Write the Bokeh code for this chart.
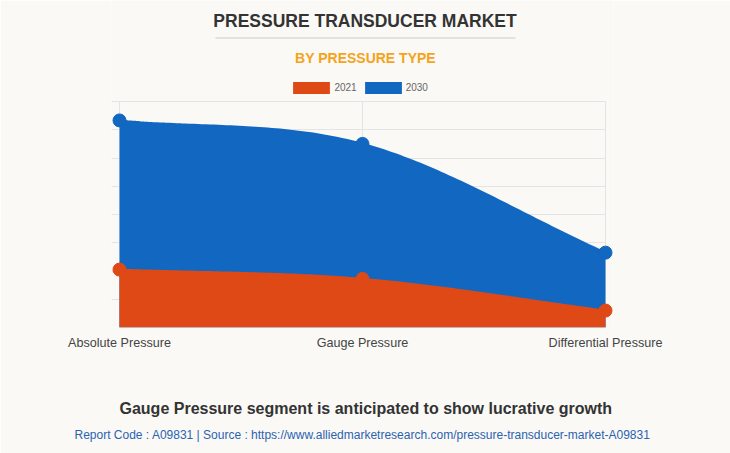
import numpy as np
from bokeh.plotting import figure
from bokeh.models import (Legend, LegendItem, FixedTicker, Range1d, Title, Grid, Label,
                          BoxAnnotation)
from bokeh.embed import file_html
from bokeh.resources import INLINE

# ---- data ----
categories = ["Absolute Pressure", "Gauge Pressure", "Differential Pressure"]
series_names = ["2021", "2030"]
values_2021 = [2.05, 1.72, 0.60]
values_2030 = [7.33, 6.50, 2.65]
y_ticks = [0, 1, 2, 3, 4, 5, 6, 7, 8]

title_text = "PRESSURE TRANSDUCER MARKET"
subtitle_text = "BY PRESSURE TYPE"
footer_text = "Gauge Pressure segment is anticipated to show lucrative growth"
source_text = "Report Code : A09831  |  Source : https://www.alliedmarketresearch.com/pressure-transducer-market-A09831"

# ---- layout ----
W, H = 730, 453
PAD = 8                      # room for the end markers
PLOT_L, PLOT_R, PLOT_T, PLOT_B = 119, 605, 101, 327
LEFT, RIGHT = PLOT_L - PAD, W - PLOT_R - PAD
FONT = "Liberation Sans"
BG = "#faf9f6"
ORANGE = "#df4916"
BLUE = "#1267c1"
GRID = "#e4e4e4"

x_idx = list(range(len(categories)))
X0, X1 = 0, len(categories) - 1
Y0, Y1 = y_ticks[0], y_ticks[-1]
sx = (PLOT_R - PLOT_L) / (X1 - X0)
sy = (PLOT_B - PLOT_T) / (Y1 - Y0)
padx = PAD / sx
y_top = Y1 + PLOT_T / sy          # frame reaches the top edge (holds the header)


def dx(px):
    return (px - PLOT_L) / sx + X0


def dy(py):
    return (PLOT_B - py) / sy + Y0


def monotone(xs, ys, n=60):
    """Chart.js 'monotone' cubic interpolation through the data points."""
    xs = np.asarray(xs, float)
    ys = np.asarray(ys, float)
    m = len(xs)
    dk = np.diff(ys) / np.diff(xs)
    mk = np.zeros(m)
    mk[0], mk[-1] = dk[0], dk[-1]
    for i in range(1, m - 1):
        mk[i] = 0 if dk[i - 1] * dk[i] <= 0 else (dk[i - 1] + dk[i]) / 2
    for i in range(m - 1):
        if abs(dk[i]) < 1e-12:
            mk[i] = mk[i + 1] = 0
            continue
        a, b = mk[i] / dk[i], mk[i + 1] / dk[i]
        s = a * a + b * b
        if s > 9:
            tau = 3 / np.sqrt(s)
            mk[i], mk[i + 1] = tau * a * dk[i], tau * b * dk[i]
    t = np.linspace(0, 1, n)[:, None]
    outx, outy = [], []
    for i in range(m - 1):
        h = (xs[i + 1] - xs[i]) / 3
        p0 = np.array([xs[i], ys[i]])
        p1 = np.array([xs[i] + h, ys[i] + mk[i] * h])
        p2 = np.array([xs[i + 1] - h, ys[i + 1] - mk[i + 1] * h])
        p3 = np.array([xs[i + 1], ys[i + 1]])
        seg = (1 - t) ** 3 * p0 + 3 * (1 - t) ** 2 * t * p1 + 3 * (1 - t) * t ** 2 * p2 + t ** 3 * p3
        if i > 0:
            seg = seg[1:]
        outx.extend(seg[:, 0])
        outy.extend(seg[:, 1])
    return np.array(outx), np.array(outy)


p = figure(width=W, height=H, output_backend="svg", toolbar_location=None,
           x_range=Range1d(X0 - padx, X1 + padx), y_range=Range1d(Y0, y_top),
           min_border_left=LEFT, min_border_right=RIGHT,
           min_border_top=0, min_border_bottom=H - PLOT_B)
p.background_fill_color = BG
p.border_fill_color = BG
p.outline_line_color = None

# grid
p.xaxis.ticker = FixedTicker(ticks=x_idx)
p.yaxis.ticker = FixedTicker(ticks=y_ticks)
p.xgrid.grid_line_color = GRID
p.ygrid.grid_line_color = GRID
if "cross_bounds" in Grid.properties():
    p.xgrid.cross_bounds = (Y0, Y1)
    p.ygrid.cross_bounds = (X0 - padx, X1)
p.yaxis.visible = False

# x axis
p.xaxis.major_label_overrides = {i: c for i, c in zip(x_idx, categories)}
p.xaxis.major_label_text_font = FONT
p.xaxis.major_label_text_font_size = "12.6px"
p.xaxis.major_label_text_color = "#444444"
p.xaxis.major_label_standoff = 8
p.xaxis.major_tick_out = 0
p.xaxis.major_tick_in = 0
p.xaxis.minor_tick_line_color = None
p.xaxis.axis_line_color = None

# series (2030 drawn first, 2021 on top)
bx, by = monotone(x_idx, values_2030)
r_blue = p.varea(x=bx, y1=0, y2=by, fill_color=BLUE)
p.line(bx, by, line_color=BLUE, line_width=2)
p.scatter(x_idx, values_2030, size=13, fill_color=BLUE, line_color=BLUE)

ox, oy = monotone(x_idx, values_2021)
r_orange = p.varea(x=ox, y1=0, y2=oy, fill_color=ORANGE)
p.line(ox, oy, line_color=ORANGE, line_width=2)
p.scatter(x_idx, values_2021, size=13, fill_color=ORANGE, line_color=ORANGE)

# legend, inside the upper strip of the frame (area swatches are inset by 10%)
GW, GH = 37 / 0.8, 12 / 0.8
legend = Legend(items=[LegendItem(label=series_names[0], renderers=[r_orange]),
                       LegendItem(label=series_names[1], renderers=[r_blue])],
                orientation="horizontal",
                location=(293 - 0.1 * GW - LEFT, PLOT_B - 93 - 0.1 * GH),
                glyph_width=round(GW), glyph_height=round(GH), label_height=round(GH),
                label_text_font=FONT, label_text_font_size="10px",
                label_text_color="#666666", label_standoff=0, spacing=3,
                padding=0, margin=0, border_line_color=None,
                background_fill_alpha=0)
p.add_layout(legend)

# header (inside the frame's top strip)
p.add_layout(Label(x=dx(364.5), y=dy(20.5), text=title_text, text_font=FONT,
                   text_font_size="17.5px", text_font_style="bold", text_color="#333333",
                   text_align="center", text_baseline="alphabetic"))
p.add_layout(BoxAnnotation(left=dx(215), right=dx(515), bottom=dy(38), top=dy(37),
                           fill_color="#cccccc", fill_alpha=1, line_color=None))
p.add_layout(Label(x=dx(365), y=dy(57.5), text=subtitle_text, text_font=FONT,
                   text_font_size="14px", text_font_style="bold", text_color="#f5a31c",
                   text_align="center", text_baseline="alphabetic"))

# footer (below panels)
has_pad = "padding" in Title.properties()


def title(text, size, color, bold, left_px, pad_top, standoff_fallback):
    kw = dict(text=text, text_font=FONT, text_font_size=size, text_color=color,
              text_font_style="bold" if bold else "normal", align="left",
              offset=left_px - LEFT)
    if has_pad:
        kw.update(padding=dict(left=0, right=0, top=pad_top, bottom=0), standoff=0)
    else:
        kw.update(standoff=standoff_fallback)
    return Title(**kw)


p.add_layout(title(footer_text, "16px", "#333333", True, 119, 45, 88), "below")
p.add_layout(title(source_text, "12px", "#2a63b0", False, 74, 9, -60), "below")

open("out.html", "w").write(file_html(p, INLINE))
